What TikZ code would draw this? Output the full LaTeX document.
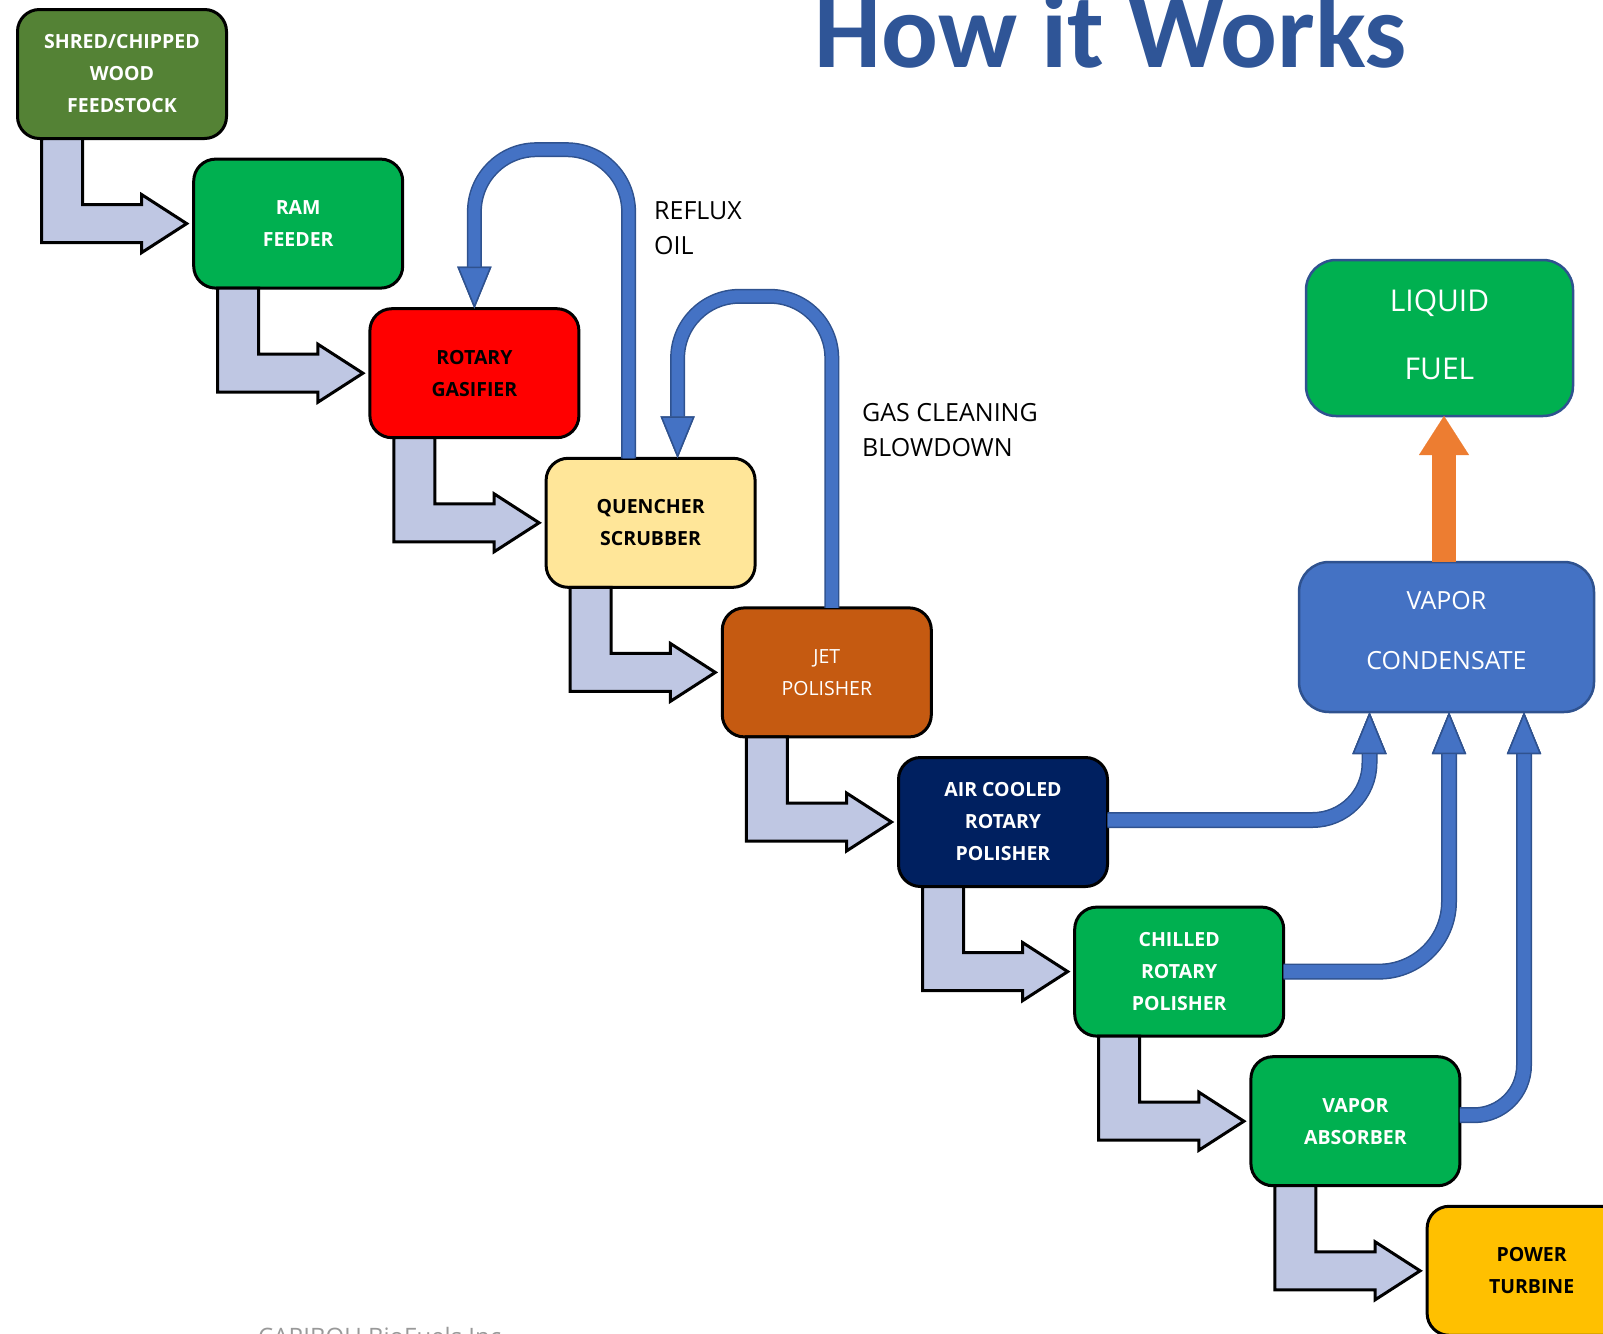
\documentclass[tikz,border=0pt]{standalone}
\usepackage{fontspec}
\setmainfont{Open Sans}
\newfontfamily\titlefont{Carlito}
\usetikzlibrary{arrows.meta,calc}

\definecolor{feedC}{HTML}{548235}
\definecolor{greenC}{HTML}{00B050}
\definecolor{redC}{HTML}{FF0000}
\definecolor{quenchC}{HTML}{FFE699}
\definecolor{jetC}{HTML}{C55A11}
\definecolor{navyC}{HTML}{002060}
\definecolor{powerC}{HTML}{FFC000}
\definecolor{pipeC}{HTML}{4472C4}
\definecolor{pipeD}{HTML}{2F528F}
\definecolor{orangeC}{HTML}{ED7D31}
\definecolor{chuteC}{RGB}{191,199,227}
\definecolor{titleC}{HTML}{2F5597}

\tikzstyle{box} = [draw, line width=3pt, rounded corners=22pt, minimum width=209pt, minimum height=129pt, inner sep=0pt, outer sep=0pt, align=center, font=\fontsize{19.5}{32}\selectfont\bfseries]
\tikzstyle{chute} = [draw, line width=3pt, fill=chuteC, line join=miter]
\tikzstyle{pipe} = [draw=pipeC, line width=12pt, preaction={draw=pipeD, line width=15pt}, -{Triangle[width=34pt,length=42pt,line width=1.5pt,color=pipeD,fill=pipeC]}]
\tikzstyle{note} = [anchor=west, align=left, inner sep=0pt, font=\fontsize{25}{35}\selectfont]

\begin{document}
\begin{tikzpicture}[x=1pt, y=-1pt]
        \useasboundingbox (0,0) rectangle (1603,1333);
        \clip (0,0) rectangle (1603,1333);

        \node[font=\titlefont\bfseries\fontsize{106}{112}\selectfont, text=titleC, anchor=base, inner sep=0pt] at (1111,67) (title) {How it Works};

        \node[box, fill=feedC, text=white] at (122,74) (feed) {SHRED/CHIPPED\\WOOD\\FEEDSTOCK};
        \node[box, fill=greenC, text=white] at (298.2,223.6) (ram) {RAM\\FEEDER};
        \node[box, fill=redC] at (474.4,373.2) (gasifier) {ROTARY\\GASIFIER};
        \node[box, fill=quenchC] at (650.6,522.8) (quencher) {QUENCHER\\SCRUBBER};
        \node[box, fill=jetC, text=white, font=\fontsize{19.5}{32}\selectfont] at (826.8,672.4) (jet) {JET\\POLISHER};
        \node[box, fill=navyC, text=white] at (1003,822) (aircooled) {AIR COOLED\\ROTARY\\POLISHER};
        \node[box, fill=greenC, text=white] at (1179.2,971.6) (chilled) {CHILLED\\ROTARY\\POLISHER};
        \node[box, fill=greenC, text=white] at (1355.4,1121.2) (absorber) {VAPOR\\ABSORBER};
        \node[box, fill=powerC] at (1531.6,1270.8) (turbine) {POWER\\TURBINE};

        \node[box, fill=greenC, draw=pipeD, text=white, line width=2.5pt, rounded corners=30pt, minimum width=267pt, minimum height=156pt, text depth=6pt, font=\fontsize{30}{68}\selectfont] at (1439.5,338) (fuel) {LIQUID\\FUEL};
        \node[box, fill=pipeC, draw=pipeD, text=white, line width=2.5pt, rounded corners=30pt, minimum width=295pt, minimum height=150pt, text depth=13pt, font=\fontsize{25}{60}\selectfont] at (1446.5,637) (condensate) {VAPOR\\CONDENSATE};

        \node[note] at (654,228) (reflux) {REFLUX\\OIL};
        \node[note] at (862,430) (blowdown) {GAS CLEANING\\BLOWDOWN};
        \node[anchor=base west, inner sep=0pt, text=black!40, font=\fontsize{24}{28}\selectfont] at (258,1345) (caribou) {CARIBOU BioFuels Inc};

        % main process chain
        \foreach \a/\b in {feed/ram, ram/gasifier, gasifier/quencher, quencher/jet, jet/aircooled, aircooled/chilled, chilled/absorber, absorber/turbine}
          \draw[chute] ($(\a.south west)+(24,0)$) |- ($(\b.west)+(-52,19)$) -- ++(0,10) -- ($(\b.west)+(-7,0)$) -- ++(-45,-29) -- ++(0,10) -| ($(\a.south west)+(65,0)$) -- cycle;

        % recycle loops
        \draw[pipe, rounded corners=62pt] ($(quencher.north)+(-22,0)$) |- ($(gasifier.north)+(0,-159)$) -- (gasifier.north);
        \draw[pipe, rounded corners=62pt] ($(jet.north)+(5,0)$) |- ($(quencher.north)+(27,-162)$) -- ($(quencher.north)+(27,0)$);

        % vapour to condensate
        \draw[pipe, line width=13pt, preaction={draw=pipeD, line width=16pt}, rounded corners=57pt] ($(aircooled.east)+(0,-2)$) -| ($(condensate.south)+(-77,0)$);
        \draw[pipe, line width=13pt, preaction={draw=pipeD, line width=16pt}, rounded corners=70pt] (chilled.east) -| ($(condensate.south)+(2.5,0)$);
        \draw[pipe, line width=13pt, preaction={draw=pipeD, line width=16pt}, rounded corners=50pt] ($(absorber.east)+(0,-6)$) -| ($(condensate.south)+(77.5,0)$);

        \draw[draw=orangeC, line width=24pt, -{Triangle[width=50pt,length=39pt,line width=0.1pt]}] ($(condensate.north)+(-2.5,0)$) -- ($(fuel.south)+(4.5,0)$);

      \end{tikzpicture}
\end{document}
